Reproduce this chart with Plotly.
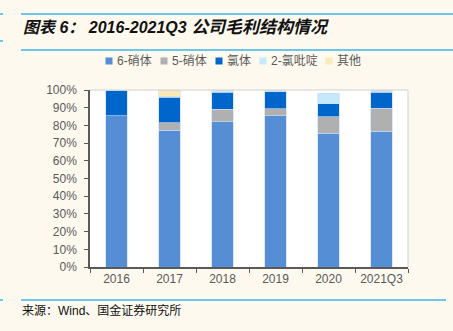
import plotly.graph_objects as go

categories = ["2016", "2017", "2018", "2019", "2020", "2021Q3"]
s6 = [85.5, 77.4, 82.0, 85.5, 75.5, 76.7]
s5 = [0.0, 4.1, 7.0, 3.8, 9.4, 13.1]
cl = [14.5, 14.4, 9.8, 9.8, 7.4, 8.9]
py2 = [0.0, 0.3, 0.7, 0.6, 5.8, 0.5]
other = [0.0, 3.8, 0.5, 0.3, 0.0, 0.8]
series_names = ["6-硝体", "5-硝体", "氯体", "2-氯吡啶", "其他"]
series_vals = [s6, s5, cl, py2, other]
colors = ["#558ED5", "#B0B0B0", "#0066CC", "#C5E8FA", "#FCE9B8"]
yticks = [0, 10, 20, 30, 40, 50, 60, 70, 80, 90, 100]

W, H = 453, 331
L, R, T, B = 90, 45, 90, 64
PW, PH = W - L - R, H - T - B
cjk = "Noto Sans CJK SC"
FONT = "Liberation Sans, " + cjk

fig = go.Figure()
for name, vals, c in zip(series_names, series_vals, colors):
    fig.add_trace(go.Bar(
        x=categories, y=vals, name=name, showlegend=False,
        marker=dict(color=c, line=dict(color="rgba(200,220,245,0.8)", width=0.8)),
    ))

fig.update_layout(
    width=W, height=H,
    barmode="stack", bargap=0.59,
    paper_bgcolor="#FDF9EF", plot_bgcolor="#FFFFFF",
    margin=dict(l=L, r=R, t=T, b=B, autoexpand=False),
    font=dict(family=FONT, size=12, color="#595959"),
    xaxis=dict(showline=True, linecolor="#595959", linewidth=1.5, ticks="outside",
               tickson="boundaries", ticklen=4, tickcolor="#595959",
               tickfont=dict(size=12, color="#595959")),
    yaxis=dict(range=[0, 100], tickvals=yticks, ticktext=[f"{v}%" for v in yticks],
               showline=True, linecolor="#595959", linewidth=1.5, ticks="outside",
               ticklen=4, tickcolor="#595959", showgrid=False, zeroline=False,
               ticklabelstandoff=5,
               tickfont=dict(size=12, color="#595959")),
)

def fx(x):
    return (x - L) / PW
def fy(y):
    return (H - B - y) / PH

shapes = []
shapes.append(dict(type="line", xref="paper", yref="paper", x0=0, x1=1, y0=1, y1=1,
                   line=dict(color="#D0D0D0", width=1)))
shapes.append(dict(type="line", xref="paper", yref="paper", x0=1, x1=1, y0=0, y1=1,
                   line=dict(color="#D0D0D0", width=1)))
def cline(x0, x1, y, color="#3DB5E8", w=1.5):
    return dict(type="line", xref="paper", yref="paper",
                x0=fx(x0), x1=fx(x1), y0=fy(y), y1=fy(y),
                line=dict(color=color, width=w))
shapes.append(cline(21, 453, 14))
shapes.append(cline(21, 453, 50))
shapes.append(cline(0, 3, 14))
shapes.append(cline(0, 3, 41))
shapes.append(cline(21, 446, 300))
shapes.append(cline(0, 3, 300))

# manual legend (small squares + labels)
leg_x = [109, 164, 219, 263, 329]
leg_y = 61
for x, name, c in zip(leg_x, series_names, colors):
    shapes.append(dict(type="rect", xref="paper", yref="paper",
                       x0=fx(x - 3.5), x1=fx(x + 3.5), y0=fy(leg_y + 3.5), y1=fy(leg_y - 3.5),
                       fillcolor=c, line=dict(width=0)))
    fig.add_annotation(text=name, xref="paper", yref="paper", x=fx(x + 6), y=fy(leg_y),
                       xanchor="left", yanchor="middle", showarrow=False,
                       font=dict(size=12, color="#595959", family=FONT))
fig.update_layout(shapes=shapes)

title_html = ("<b><i>图表 6：</i></b> <b><i>2016-2021Q3</i></b> "
              "<b><i><span style='font-size:17px'>公司毛利结构情况</span></i></b>")
fig.add_annotation(text=title_html, xref="paper", yref="paper",
                   x=fx(21), y=fy(27), xanchor="left", yanchor="middle",
                   showarrow=False, font=dict(size=16, color="#111111", family=FONT))
fig.add_annotation(text="来源：Wind、国金证券研究所", xref="paper", yref="paper",
                   x=fx(20), y=fy(310), xanchor="left", yanchor="middle",
                   showarrow=False, font=dict(size=12, color="#111111", family=FONT))

fig.write_html("out.html")
